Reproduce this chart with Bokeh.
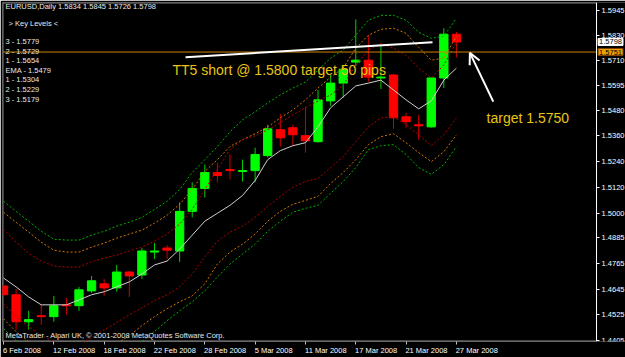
import pandas as pd
from bokeh.plotting import figure
from bokeh.models import (Range1d, LinearAxis, FixedTicker, PrintfTickFormatter,
                          ColumnDataSource, Label, Arrow, OpenHead)
from bokeh.embed import file_html
from bokeh.resources import INLINE

# ---------------- data ----------------
dates = ["6 Feb", "7 Feb", "8 Feb", "11 Feb", "12 Feb", "13 Feb", "14 Feb", "15 Feb",
         "18 Feb", "19 Feb", "20 Feb", "21 Feb", "22 Feb", "25 Feb", "26 Feb", "27 Feb",
         "28 Feb", "29 Feb", "3 Mar", "4 Mar", "5 Mar", "6 Mar", "7 Mar", "10 Mar",
         "11 Mar", "12 Mar", "13 Mar", "14 Mar", "17 Mar", "18 Mar", "19 Mar", "20 Mar",
         "21 Mar", "24 Mar", "25 Mar", "26 Mar", "27 Mar"]

opens = [1.4660, 1.4619, 1.4493, 1.4521, 1.4517, 1.4572, 1.4568, 1.4637, 1.4670, 1.4651,
         1.4725, 1.4711, 1.4818, 1.4837, 1.4823, 1.5008, 1.5115, 1.5189, 1.5203, 1.5194,
         1.5198, 1.5268, 1.5389, 1.5398, 1.5361, 1.5333, 1.5523, 1.5606, 1.5704, 1.5713,
         1.5630, 1.5644, 1.5449, 1.5412, 1.5402, 1.5630, 1.5834]
highs = [1.4670, 1.4646, 1.4544, 1.4572, 1.4614, 1.4605, 1.4656, 1.4707, 1.4693, 1.4758,
         1.4730, 1.4837, 1.4860, 1.4851, 1.5050, 1.5143, 1.5226, 1.5235, 1.5273, 1.5249,
         1.5305, 1.5412, 1.5463, 1.5412, 1.5495, 1.5574, 1.5644, 1.5690, 1.5903, 1.5829,
         1.5778, 1.5648, 1.5467, 1.5458, 1.5634, 1.5862, 1.5845]
lows = [1.4600, 1.4456, 1.4456, 1.4479, 1.4493, 1.4526, 1.4544, 1.4628, 1.4614, 1.4633,
        1.4609, 1.4693, 1.4786, 1.4786, 1.4772, 1.4980, 1.5073, 1.5143, 1.5157, 1.5147,
        1.5143, 1.5259, 1.5310, 1.5314, 1.5282, 1.5328, 1.5500, 1.5537, 1.5685, 1.5611,
        1.5579, 1.5393, 1.5398, 1.5342, 1.5398, 1.5583, 1.5726]
closes = [1.4619, 1.4493, 1.4503, 1.4517, 1.4568, 1.4568, 1.4642, 1.4684, 1.4651, 1.4725,
          1.4707, 1.4823, 1.4823, 1.4827, 1.5008, 1.5115, 1.5189, 1.5175, 1.5198, 1.5198,
          1.5273, 1.5393, 1.5351, 1.5365, 1.5337, 1.5528, 1.5606, 1.5671, 1.5713, 1.5634,
          1.5634, 1.5444, 1.5426, 1.5407, 1.5630, 1.5834, 1.5798]

ema = [1.4697, 1.4656, 1.4609, 1.4572, 1.4572, 1.4572, 1.4595, 1.4619, 1.4633, 1.4656,
       1.4679, 1.4716, 1.4758, 1.4776, 1.4832, 1.4897, 1.4962, 1.4999, 1.5036, 1.5082,
       1.5152, 1.5249, 1.5291, 1.5314, 1.5328, 1.5402, 1.5491, 1.5542, 1.5593, 1.5606,
       1.5620, 1.5574, 1.5528, 1.5486, 1.5523, 1.5620, 1.5676]

upper3 = [1.5055, 1.5008, 1.4962, 1.4915, 1.4878, 1.4874, 1.4874, 1.4897, 1.4915, 1.4939,
          1.4957, 1.4980, 1.5017, 1.5055, 1.5110, 1.5189, 1.5249, 1.5310, 1.5379, 1.5435,
          1.5472, 1.5514, 1.5551, 1.5583, 1.5611, 1.5667, 1.5722, 1.5760, 1.5829, 1.5899,
          1.5922, 1.5922, 1.5899, 1.5843, 1.5815, 1.5825, 1.5908]
upper2 = [1.5004, 1.4957, 1.4911, 1.4864, 1.4827, 1.4818, 1.4818, 1.4841, 1.4860, 1.4883,
          1.4902, 1.4920, 1.4953, 1.4990, 1.5041, 1.5110, 1.5194, 1.5249, 1.5310, 1.5342,
          1.5370, 1.5402, 1.5444, 1.5481, 1.5528, 1.5583, 1.5634, 1.5676, 1.5769, 1.5829,
          1.5857, 1.5862, 1.5838, 1.5773, 1.5713, 1.5722, 1.5825]
upper1 = [1.4925, 1.4864, 1.4813, 1.4776, 1.4753, 1.4748, 1.4748, 1.4772, 1.4790, 1.4804,
          1.4823, 1.4841, 1.4869, 1.4902, 1.4948, 1.5017, 1.5110, 1.5203, 1.5296, 1.5342,
          1.5361, 1.5388, 1.5421, 1.5458, 1.5491, 1.5523, 1.5551, 1.5597, 1.5690, 1.5760,
          1.5792, 1.5769, 1.5736, 1.5676, 1.5630, 1.5690, 1.5797]
lower1 = [1.4577, 1.4517, 1.4470, 1.4428, 1.4401, 1.4387, 1.4391, 1.4419, 1.4456, 1.4489,
          1.4526, 1.4558, 1.4591, 1.4619, 1.4656, 1.4716, 1.4795, 1.4869, 1.4911, 1.4939,
          1.4980, 1.5031, 1.5078, 1.5120, 1.5147, 1.5161, 1.5212, 1.5263, 1.5333, 1.5402,
          1.5444, 1.5449, 1.5412, 1.5365, 1.5314, 1.5365, 1.5444]
lower2 = [1.4507, 1.4447, 1.4401, 1.4368, 1.4345, 1.4336, 1.4336, 1.4345, 1.4363, 1.4391,
          1.4428, 1.4475, 1.4517, 1.4554, 1.4586, 1.4614, 1.4670, 1.4762, 1.4818, 1.4855,
          1.4902, 1.4962, 1.5008, 1.5041, 1.5059, 1.5078, 1.5138, 1.5189, 1.5249, 1.5319,
          1.5356, 1.5370, 1.5328, 1.5282, 1.5240, 1.5286, 1.5365]
lower3 = [1.4461, 1.4405, 1.4359, 1.4322, 1.4294, 1.4285, 1.4289, 1.4303, 1.4317, 1.4336,
          1.4368, 1.4401, 1.4447, 1.4498, 1.4544, 1.4586, 1.4637, 1.4702, 1.4762, 1.4809,
          1.4855, 1.4915, 1.4962, 1.5004, 1.5022, 1.5036, 1.5092, 1.5147, 1.5212, 1.5296,
          1.5314, 1.5319, 1.5273, 1.5212, 1.5180, 1.5226, 1.5310]

price_ticks = [1.4405, 1.4525, 1.4645, 1.4765, 1.4885, 1.5000, 1.5120, 1.5240,
               1.5360, 1.5480, 1.5595, 1.5710, 1.5830, 1.5945]
date_tick_idx = [0, 4, 8, 12, 16, 20, 24, 28, 32, 36]
date_tick_labels = ["6 Feb 2008", "12 Feb 2008", "18 Feb 2008", "22 Feb 2008",
                    "28 Feb 2008", "5 Mar 2008", "11 Mar 2008", "17 Mar 2008",
                    "21 Mar 2008", "27 Mar 2008"]

trend_x = [14.47, 34.1]
trend_y = [1.5727, 1.5797]
target_line = 1.5751
last_close = 1.5798

header = "EURUSD,Daily  1.5834 1.5845 1.5726 1.5798"
key_title = "> Key Levels <"
key_levels = ["3 - 1.5779", "2 - 1.5729", "1 - 1.5654", "EMA - 1.5479",
              "1 - 1.5304", "2 - 1.5229", "3 - 1.5179"]
note_text = "TT5  short @ 1.5800  target 50 pips"
target_text = "target 1.5750"
copyright_text = "MetaTrader - Alpari UK, \u00a9 2001-2008 MetaQuotes Software Corp."

# ---------------- layout constants ----------------
X0, X1 = -0.08, 49.44        # frame spans the full width; price scale drawn inside it
X_SCALE = 47.14              # where the price scale line sits
Y0, Y1 = 1.4401, 1.5982

# ---------------- build ----------------
df = pd.DataFrame({"o": opens, "h": highs, "l": lows, "c": closes})
df["x"] = range(len(df))
df["top"] = df[["o", "c"]].max(axis=1)
df["bot"] = df[["o", "c"]].min(axis=1)
up = ColumnDataSource(df[df.c >= df.o])
dn = ColumnDataSource(df[df.c < df.o])
xs = list(range(len(dates)))

SMALL = "Liberation Sans"
p = figure(width=625, height=357, x_range=Range1d(X0, X1), y_range=Range1d(Y0, Y1),
           output_backend="svg", toolbar_location=None,
           x_axis_location=None, y_axis_location=None,
           background_fill_color="black", border_fill_color="black",
           min_border_left=2, min_border_top=2, min_border_right=0, min_border_bottom=14)
p.grid.grid_line_color = None
p.outline_line_color = None

ya = LinearAxis(ticker=FixedTicker(ticks=price_ticks),
                formatter=PrintfTickFormatter(format="%.4f"),
                fixed_location=X_SCALE,
                axis_line_color="white", major_tick_line_color="white",
                minor_tick_line_color=None, major_tick_in=0, major_tick_out=3,
                major_label_standoff=2, major_label_text_font=SMALL,
                major_label_text_font_size="7.5px", major_label_text_color="white")
p.add_layout(ya, "right")

ax1 = LinearAxis(ticker=FixedTicker(ticks=date_tick_idx), axis_line_color=None,
                 major_tick_line_color="#c0c0c0", minor_tick_line_color=None,
                 major_tick_in=0, major_tick_out=3, major_label_text_font_size="1px",
                 major_label_text_color=None, major_label_standoff=0)
p.add_layout(ax1, "below")
bar_px = 12.58
label_pos = [i + len(t) * 3.7 / 2 / bar_px for i, t in zip(date_tick_idx, date_tick_labels)]
ax2 = LinearAxis(ticker=FixedTicker(ticks=label_pos),
                 major_label_overrides={pos: t for pos, t in zip(label_pos, date_tick_labels)},
                 axis_line_color=None, major_tick_line_color=None, minor_tick_line_color=None,
                 major_tick_in=0, major_tick_out=0, major_label_standoff=1,
                 major_label_text_font=SMALL, major_label_text_font_size="7.5px",
                 major_label_text_color="white")
p.add_layout(ax2, "below")

# chart frame (grey) on left / top / bottom up to the price scale
p.line([X0, X0], [Y0, Y1], color="#808080", line_width=2)
p.line([X0, X_SCALE], [Y1, Y1], color="#808080", line_width=2)
p.line([X0, X_SCALE], [Y0, Y0], color="#909090", line_width=2)

# candles
p.segment("x", "h", "x", "l", source=up, color="#00D000", line_width=1)
p.segment("x", "h", "x", "l", source=dn, color="#D00000", line_width=1)
p.vbar(x="x", width=0.66, top="top", bottom="bot", source=up,
       fill_color="#00FF00", line_color="#00FF00")
p.vbar(x="x", width=0.66, top="top", bottom="bot", source=dn,
       fill_color="#FF0000", line_color="#FF0000")

# envelopes
for ys, col in [(upper3, "#00B000"), (upper2, "#D07800"), (upper1, "#B00000"),
                (lower1, "#B00000"), (lower2, "#D07800"), (lower3, "#00B000")]:
    p.line(xs, ys, color=col, line_width=1, line_dash="2 2")
p.line(xs, ema, color="#D0D0D0", line_width=1)

# objects
p.line([X0, X_SCALE], [target_line, target_line], color="#D08000", line_width=1)
p.line(trend_x, trend_y, color="white", line_width=2)
p.add_layout(Arrow(end=OpenHead(size=11, line_color="white", line_width=2),
                   x_start=38.93, y_start=1.5520, x_end=37.07, y_end=1.5747,
                   line_color="white", line_width=2))

YEL = "#E8C417"
p.add_layout(Label(x=13.43, y=1.5667, text=note_text, text_color=YEL,
                   text_font=SMALL, text_font_size="14px", text_baseline="alphabetic"))
p.add_layout(Label(x=38.4, y=1.5444, text=target_text, text_color=YEL,
                   text_font=SMALL, text_font_size="14px", text_baseline="alphabetic"))

# price boxes on the scale
BOX_X = X_SCALE + 0.12
p.add_layout(Label(x=BOX_X, y=last_close, text="1.5798", text_color="black",
                   text_font=SMALL, text_font_size="7.5px", text_baseline="middle",
                   background_fill_color="white", border_line_color="white", padding=1))
p.add_layout(Label(x=BOX_X, y=target_line, text="1.5751", text_color="black",
                   text_font=SMALL, text_font_size="7.5px", text_baseline="middle",
                   background_fill_color="#F0A000", border_line_color="#804000", padding=1))

# screen texts (frame bottom-left origin)
FB = 343
def stext(x, y, t, color="#E8E8E8"):
    p.add_layout(Label(x=x - 2, y=FB - y, x_units="screen", y_units="screen", text=t,
                       text_color=color, text_font=SMALL, text_font_size="7.5px",
                       text_baseline="middle"))

stext(5, 8, header)
stext(8, 25, key_title)
for k, t in enumerate(key_levels):
    stext(5, 43 + k * 9.6, t)
stext(5, 337, copyright_text)

open("out.html", "w").write(file_html(p, INLINE))
